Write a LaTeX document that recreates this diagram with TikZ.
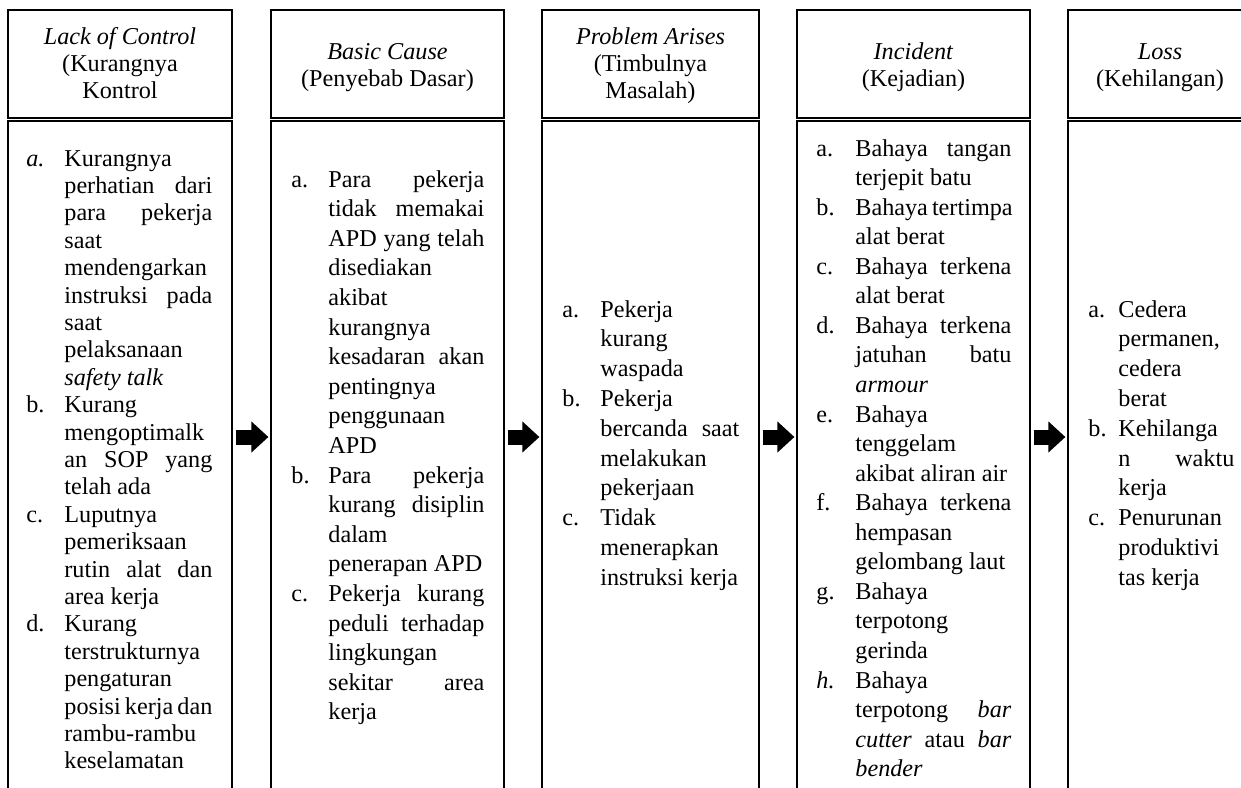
\documentclass[tikz,border=0pt]{standalone}
\usepackage{fontspec}
\setmainfont{Liberation Serif}
\usetikzlibrary{arrows.meta}
\newlength\labw
\newlength\txtw
% first line of an item: label + left-aligned / justified text
\newcommand\Fl[2]{\hbox{\hbox to\labw{#1\hfil}\hbox{#2}}}
\newcommand\Fj[2]{\hbox{\hbox to\labw{#1\hfil}\hbox to\txtw{#2}}}
% continuation lines
\newcommand\Nl[1]{\hbox{\hskip\labw\hbox{#1}}}
\newcommand\Nj[1]{\hbox{\hskip\labw\hbox to\txtw{#1}}}
\newcommand\cl[1]{\hbox to 0pt{\hss#1\hss}}
\tikzset{
  boxs/.style={draw=black, line width=0.6bp, inner sep=0pt},
  hdrtext/.style={inner sep=0pt, anchor=base, font=\fontsize{12.1bp}{13.5bp}\selectfont},
  bodytext/.style={inner sep=0pt, anchor=base west},
  flow/.style={line width=7.5bp, -{Triangle[length=8.5bp,width=15bp]}, shorten <=1.5bp, shorten >=1bp}
}
\begin{document}
\begin{tikzpicture}[x=0.5bp,y=-0.5bp]
\useasboundingbox (0,0) rectangle (1241,787);
\fill[white] (0,0) rectangle (1241,787);
\clip (0,0) rectangle (1241,787);
% header boxes
\node[boxs, minimum width=112bp, minimum height=54bp] (h1) at (120,64) {};
\node[boxs, minimum width=116.5bp, minimum height=54bp] (h2) at (387.5,64) {};
\node[boxs, minimum width=108.5bp, minimum height=54bp] (h3) at (650.5,64) {};
\node[boxs, minimum width=116.5bp, minimum height=54bp] (h4) at (913.5,64) {};
\node[boxs, minimum width=93bp, minimum height=54bp] (h5) at (1161,64) {};
% body boxes
\node[boxs, minimum width=112bp, minimum height=350bp] (b1) at (120,471) {};
\node[boxs, minimum width=116.5bp, minimum height=350bp] (b2) at (387.5,471) {};
\node[boxs, minimum width=108.5bp, minimum height=350bp] (b3) at (650.5,471) {};
\node[boxs, minimum width=116.5bp, minimum height=350bp] (b4) at (913.5,471) {};
\node[boxs, minimum width=93bp, minimum height=350bp] (b5) at (1161,471) {};
% header texts
\node[hdrtext] (ht1) at (120,44) {\vtop{\cl{\textit{Lack of Control}}\cl{(Kurangnya}\cl{Kontrol}}};
\node[hdrtext] (ht2) at (387.5,59.5) {\vtop{\cl{\textit{Basic Cause}}\cl{(Penyebab Dasar)}}};
\node[hdrtext] (ht3) at (650.5,44.5) {\vtop{\cl{\textit{Problem Arises}}\cl{(Timbulnya}\cl{Masalah)}}};
\node[hdrtext] (ht4) at (913.5,59.5) {\vtop{\cl{\textit{Incident}}\cl{(Kejadian)}}};
\node[hdrtext] (ht5) at (1160,59.5) {\vtop{\cl{\textit{Loss}}\cl{(Kehilangan)}}};
% body texts
\node[bodytext, font=\fontsize{12.1bp}{13.7bp}\selectfont] (t1) at (26,166) {\setlength\labw{19bp}\setlength\txtw{74bp}\vtop{%
\Fl{\textit{a.}}{Kurangnya}\Nj{perhatian dari}\Nj{para pekerja}\Nl{saat}\Nl{mendengarkan}\Nj{instruksi pada}\Nl{saat}\Nl{pelaksanaan}\Nl{\textit{safety talk}}%
\Fl{b.}{Kurang}\Nl{mengoptimalk}\Nj{an SOP yang}\Nl{telah ada}%
\Fl{c.}{Luputnya}\Nl{pemeriksaan}\Nj{rutin alat dan}\Nl{area kerja}%
\Fl{d.}{Kurang}\Nl{terstrukturnya}\Nl{pengaturan}\Nj{posisi kerja dan}\Nl{rambu-rambu}\Nl{keselamatan}}};
\node[bodytext, font=\fontsize{12.1bp}{14.8bp}\selectfont] (t2) at (291,187) {\setlength\labw{18.5bp}\setlength\txtw{78bp}\vtop{%
\Fj{a.}{Para pekerja}\Nj{tidak memakai}\Nj{APD yang telah}\Nl{disediakan}\Nl{akibat}\Nl{kurangnya}\Nj{kesadaran akan}\Nl{pentingnya}\Nl{penggunaan}\Nl{APD}%
\Fj{b.}{Para pekerja}\Nj{kurang disiplin}\Nl{dalam}\Nl{penerapan APD}%
\Fj{c.}{Pekerja kurang}\Nj{peduli terhadap}\Nl{lingkungan}\Nj{sekitar area}\Nl{kerja}}};
\node[bodytext, font=\fontsize{12.1bp}{14.9bp}\selectfont] (t3) at (562,317) {\setlength\labw{19bp}\setlength\txtw{69.5bp}\vtop{%
\Fl{a.}{Pekerja}\Nl{kurang}\Nl{waspada}%
\Fl{b.}{Pekerja}\Nj{bercanda saat}\Nl{melakukan}\Nl{pekerjaan}%
\Fl{c.}{Tidak}\Nl{menerapkan}\Nl{instruksi kerja}}};
\node[bodytext, font=\fontsize{12.1bp}{14.78bp}\selectfont] (t4) at (816,156) {\setlength\labw{19.5bp}\setlength\txtw{78bp}\vtop{%
\Fj{a.}{Bahaya tangan}\Nl{terjepit batu}%
\Fj{b.}{Bahaya tertimpa}\Nl{alat berat}%
\Fj{c.}{Bahaya terkena}\Nl{alat berat}%
\Fj{d.}{Bahaya terkena}\Nj{jatuhan batu}\Nl{\textit{armour}}%
\Fl{e.}{Bahaya}\Nl{tenggelam}\Nl{akibat aliran air}%
\Fj{f.}{Bahaya terkena}\Nl{hempasan}\Nl{gelombang laut}%
\Fl{g.}{Bahaya}\Nl{terpotong}\Nl{gerinda}%
\Fl{\textit{h.}}{Bahaya}\Nj{terpotong \textit{bar}}\Nj{\textit{cutter} atau \textit{bar}}\Nl{\textit{bender}}}};
\node[bodytext, font=\fontsize{12.1bp}{14.9bp}\selectfont] (t5) at (1088,317) {\setlength\labw{15bp}\setlength\txtw{58bp}\vtop{%
\Fl{a.}{Cedera}\Nl{permanen,}\Nl{cedera}\Nl{berat}%
\Fl{b.}{Kehilanga}\Nj{n waktu}\Nl{kerja}%
\Fl{c.}{Penurunan}\Nl{produktivi}\Nl{tas kerja}}};
% arrows
\coordinate (lvl) at (0,437);
\draw[flow] (b1.east |- lvl) -- (b2.west |- lvl);
\draw[flow] (b2.east |- lvl) -- (b3.west |- lvl);
\draw[flow] (b3.east |- lvl) -- (b4.west |- lvl);
\draw[flow] (b4.east |- lvl) -- (b5.west |- lvl);
\end{tikzpicture}
\end{document}
